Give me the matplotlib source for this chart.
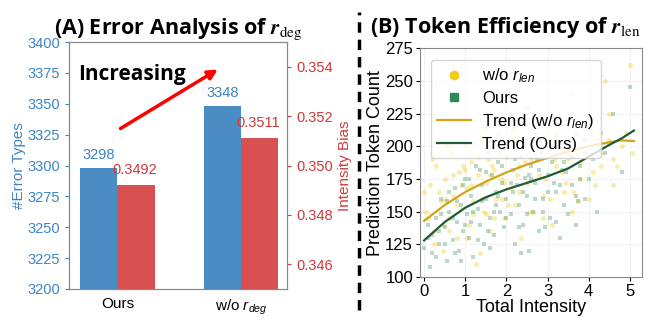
import matplotlib.pyplot as plt
from matplotlib.lines import Line2D

plt.rcParams['font.family'] = 'Liberation Sans'
plt.rcParams['mathtext.fontset'] = 'custom'
plt.rcParams['mathtext.rm'] = 'Liberation Sans'
plt.rcParams['mathtext.it'] = 'Liberation Sans:italic'

# ---- panel A data ----
groups = ['Ours', 'w/o $r_{deg}$']
error_types = [3298, 3348]
intensity_bias = [0.3492, 0.3511]

# ---- panel B data ----
ours_x = [0.1, 0.2, 0.3, 0.35, 0.4, 0.5, 0.55, 0.6, 0.7, 0.75, 0.8, 0.85, 0.9, 0.95,
          1.0, 1.05, 1.1, 1.15, 1.2, 1.25, 1.3, 1.35, 1.4, 1.45, 1.5, 1.55, 1.6, 1.65,
          1.7, 1.75, 1.8, 1.85, 1.9, 1.95, 2.0, 2.05, 2.1, 2.15, 2.2, 2.25, 2.3, 2.35,
          2.4, 2.45, 2.5, 2.55, 2.6, 2.65, 2.7, 2.8, 2.85, 2.9, 3.0, 3.05, 3.1, 3.2,
          3.3, 3.35, 3.4, 3.5, 3.6, 3.7, 3.8, 3.9, 4.0, 4.2, 4.4, 4.6, 4.8, 5.0,
          0.0, 0.1, 0.2, 0.3, 0.4, 0.5, 0.6, 0.7, 0.8, 0.9, 1.0, 1.1, 1.2, 1.3,
          1.4, 1.5, 1.6, 1.7, 1.8, 1.9, 2.0, 2.1, 2.2, 2.3, 2.4, 2.5, 2.6, 2.7,
          2.8, 2.9, 3.0, 3.1, 3.2, 3.3, 3.4, 3.5, 3.6, 3.7, 3.8, 3.9,
          0.15, 0.35, 0.55, 0.75, 0.95, 1.15, 1.35, 1.55, 1.75, 1.95, 2.15, 2.35,
          2.55, 2.75, 2.95, 3.15, 3.45, 3.75, 4.1, 4.3]
ours_y = [130, 118, 145, 125, 160, 138, 112, 150, 128, 168, 142, 120, 155, 135,
          175, 148, 130, 162, 115, 185, 152, 140, 170, 125, 160, 195, 145, 178,
          132, 165, 188, 150, 172, 138, 160, 200, 148, 182, 125, 170, 155, 192,
          140, 176, 162, 120, 185, 150, 172, 135, 195, 160, 178, 145, 188, 165,
          130, 182, 155, 198, 170, 140, 185, 160, 175, 150, 195, 225, 180, 245,
          122, 140, 132, 115, 148, 125, 165, 145, 158, 112, 140, 175, 150, 128,
          158, 180, 122, 150, 162, 185, 145, 172, 190, 138, 165, 148, 175, 160,
          182, 150, 165, 200, 142, 170, 188, 148, 192, 162, 175, 205,
          108, 135, 158, 118, 170, 142, 182, 135, 155, 198, 165, 118,
          178, 190, 138, 172, 180, 158, 190, 210]

wo_x = [0.05, 0.15, 0.25, 0.3, 0.4, 0.45, 0.5, 0.6, 0.65, 0.7, 0.8, 0.85, 0.9, 1.0,
        1.05, 1.1, 1.15, 1.2, 1.25, 1.3, 1.4, 1.45, 1.5, 1.55, 1.6, 1.7, 1.75, 1.8,
        1.9, 1.95, 2.0, 2.1, 2.15, 2.2, 2.3, 2.35, 2.4, 2.5, 2.6, 2.65, 2.7, 2.8,
        2.9, 3.0, 3.1, 3.2, 3.3, 3.4, 3.5, 3.6, 3.7, 3.8, 3.9, 4.0, 4.2, 4.3,
        4.5, 4.6, 4.8, 5.0, 4.4, 3.6, 2.5, 1.2,
        0.0, 0.1, 0.2, 0.35, 0.45, 0.55, 0.7, 0.8, 0.95, 1.05, 1.15, 1.3, 1.4, 1.5,
        1.6, 1.7, 1.85, 1.95, 2.05, 2.2, 2.3, 2.45, 2.55, 2.7, 2.8, 2.95, 3.05, 3.2,
        3.35, 3.5, 3.65, 3.8, 3.95, 4.1, 4.3, 4.5, 4.7, 4.9, 5.05, 2.0,
        0.25, 0.6, 0.9, 1.2, 1.35, 1.65, 1.9, 2.25, 2.6, 2.9, 3.15, 3.45, 3.75,
        4.15, 4.6, 0.5, 1.0, 1.5]
wo_y = [150, 170, 135, 185, 158, 120, 175, 145, 195, 162, 130, 180, 152, 200,
        168, 140, 188, 158, 110, 178, 205, 150, 172, 190, 135, 182, 160, 210,
        175, 145, 192, 168, 215, 155, 185, 130, 200, 172, 190, 150, 210, 178,
        162, 198, 140, 185, 205, 165, 190, 150, 210, 175, 195, 160, 205, 185,
        225, 170, 200, 262, 250, 240, 230, 220,
        165, 145, 190, 165, 140, 200, 178, 155, 185, 130, 170, 192, 160, 215,
        178, 145, 195, 172, 155, 205, 165, 188, 150, 195, 220, 175, 160, 210,
        180, 195, 165, 188, 215, 180, 195, 205, 185, 210, 195, 225,
        125, 135, 170, 148, 118, 185, 160, 178, 202, 145, 190, 172, 158,
        170, 190, 160, 182, 148]

trend_x = [0.0, 0.5, 1.0, 1.5, 2.0, 2.5, 3.0, 3.5, 4.0, 4.5, 4.8, 5.1]
trend_wo = [143, 155, 165, 173, 180, 186, 191, 196, 200, 203, 204.5, 204]
trend_ours = [128, 142, 153, 161, 167, 172, 177, 183, 192, 201, 206, 212]

blue = '#4a8cc4'
red = '#d95050'
blue_txt = '#3d85c6'
red_txt = '#d03a3a'
gold = '#d4a418'
dkgreen = '#1e5c38'

fig = plt.figure(figsize=(6.65, 3.21), dpi=100)

# ---------------- (A) ----------------
ax1 = fig.add_axes([0.1038, 0.0997, 0.328, 0.7693])
ax2 = ax1.twinx()
pos = [0, 1]
w = 0.3
ax1.bar([p - w / 2 for p in pos], error_types, w, color=blue)
ax2.bar([p + w / 2 for p in pos], intensity_bias, w, color=red)
ax1.set_ylim(3200, 3400)
ax2.set_ylim(0.345, 0.355)
ax1.set_xlim(-0.39, 1.37)
ax1.set_xticks(pos)
ax1.set_xticklabels(groups, fontsize=11)
ax1.tick_params(axis='x', length=0, pad=6)
ax1.tick_params(axis='y', colors=blue_txt, labelsize=10.5, length=3)
ax2.set_yticks([0.346, 0.348, 0.350, 0.352, 0.354])
ax2.tick_params(axis='y', colors=red_txt, labelsize=10.5, length=3)
ax1.set_ylabel('#Error Types', color=blue_txt, fontsize=11, labelpad=1)
ax2.set_ylabel('Intensity Bias', color=red_txt, fontsize=11, labelpad=4)
for a in (ax1, ax2):
    for s in a.spines.values():
        s.set_color('#888888')
for p, v in zip(pos, error_types):
    ax1.text(p - w / 2, v + 5, str(v), color=blue_txt, fontsize=10.5,
             ha='center', va='bottom')
for p, v in zip(pos, intensity_bias):
    ax2.text(p + w / 2 - 0.01, v + 0.00032, '%.4f' % v, color=red_txt,
             fontsize=10.5, ha='center', va='bottom')
ax1.text(0.04, 0.87, 'Increasing', transform=ax1.transAxes, fontsize=15,
         fontweight='bold', family='Open Sans', va='center', ha='left')
ax1.annotate('', xy=(0.693, 0.895), xytext=(0.225, 0.644),
             xycoords='axes fraction',
             arrowprops=dict(arrowstyle='-|>', color='red', lw=2.5,
                             mutation_scale=14))
ax1.set_title(r'(A) Error Analysis of $\mathbfit{r}_{\mathrm{deg}}$',
              fontsize=15.5, fontweight='bold', family='Open Sans', pad=4,
              math_fontfamily='stix')

# ---------------- (B) ----------------
ax3 = fig.add_axes([0.6316, 0.137, 0.334, 0.713])
ax3.grid(color='#f2f2f2', lw=0.8)
ax3.set_axisbelow(True)
ax3.scatter(wo_x, wo_y, s=13, color='#f2d024', alpha=0.38, marker='o', lw=0)
ax3.scatter(ours_x, ours_y, s=11, color='#2e8b57', alpha=0.32, marker='s', lw=0)
ax3.plot(trend_x, trend_wo, color=gold, lw=1.6)
ax3.plot(trend_x, trend_ours, color=dkgreen, lw=1.6)
ax3.set_xlim(-0.1, 5.3)
ax3.set_ylim(100, 275)
ax3.set_xticks([0, 1, 2, 3, 4, 5])
ax3.set_yticks([100, 125, 150, 175, 200, 225, 250, 275])
ax3.tick_params(labelsize=12, length=3, pad=2)
ax3.set_xlabel('Total Intensity', fontsize=13, labelpad=0)
ax3.set_ylabel('Prediction Token Count', fontsize=13, labelpad=1)
for s in ax3.spines.values():
    s.set_color('#888888')
handles = [
    Line2D([], [], marker='o', ls='', color='#f5cc10', markersize=6),
    Line2D([], [], marker='s', ls='', color='#2e8b57', markersize=6),
    Line2D([], [], color=gold, lw=1.6),
    Line2D([], [], color=dkgreen, lw=1.6),
]
labels = ['w/o $r_{len}$', 'Ours', 'Trend (w/o $r_{len}$)', 'Trend (Ours)']
ax3.legend(handles, labels, loc='upper left', fontsize=12, frameon=True,
           edgecolor='#cccccc', handlelength=2.0, handletextpad=0.7,
           labelspacing=0.35, borderpad=0.4, bbox_to_anchor=(0.01, 0.985))
fig.text(505 / 665, 1 - 27 / 321,
         r'(B) Token Efficiency of $\mathbfit{r}_{\mathrm{len}}$',
         fontsize=15.5, fontweight='bold', family='Open Sans',
         ha='center', va='center', math_fontfamily='stix')

# dashed separator
fig.add_artist(Line2D([0.54, 0.54], [0.034, 0.963], color='black', lw=2.5,
                      ls=(0, (3, 2)), transform=fig.transFigure))

fig.savefig('out.png', dpi=100)
